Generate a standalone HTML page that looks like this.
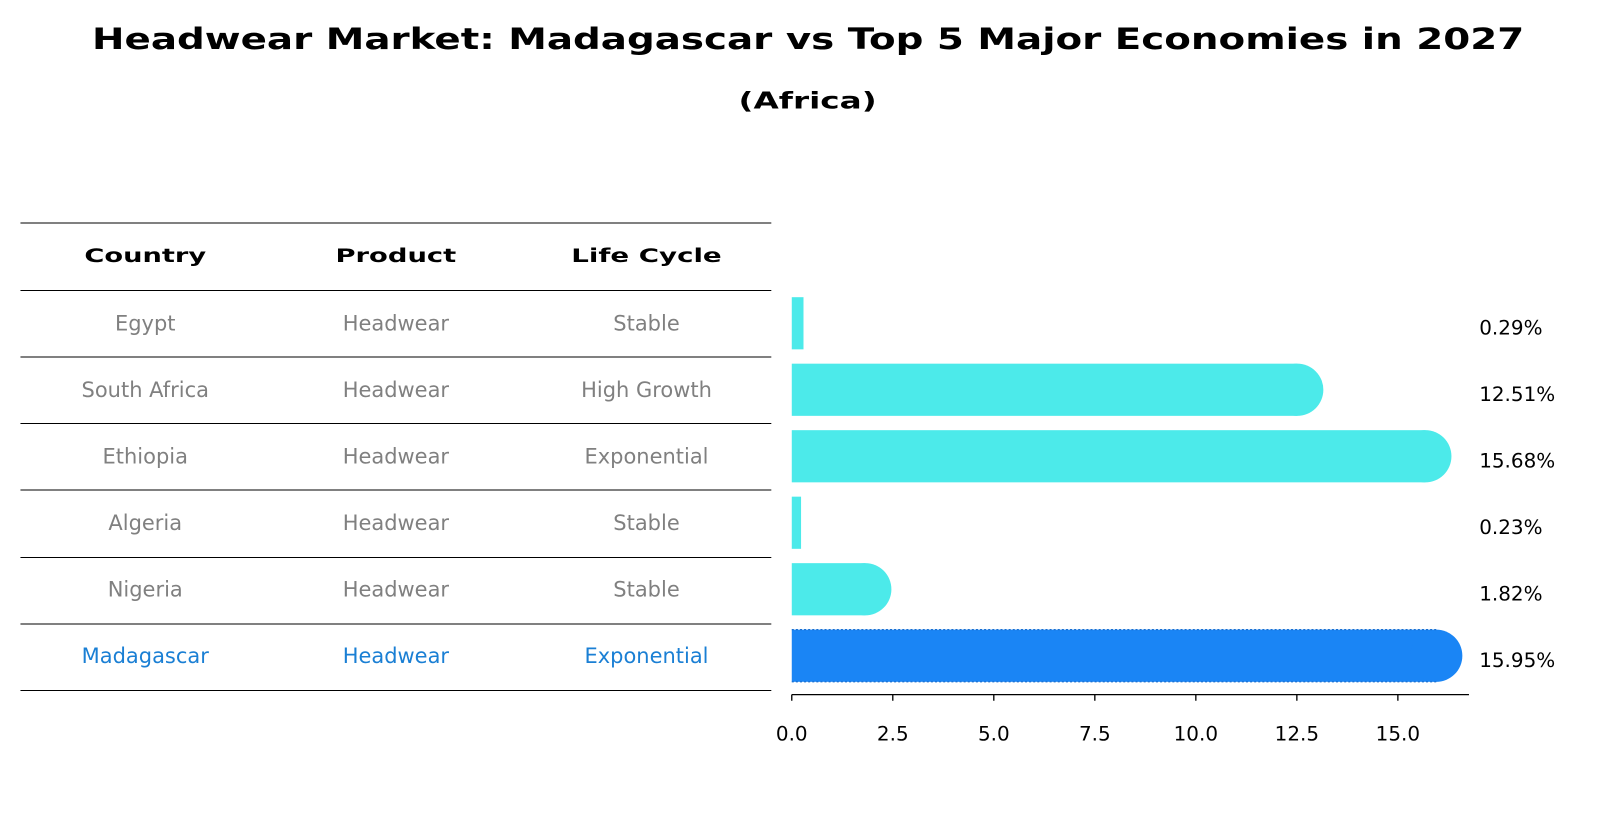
<!DOCTYPE html>
<html><head><meta charset="utf-8"><style>
body{margin:0;background:#fff;}
svg text{font-family:"DejaVu Sans","Liberation Sans",sans-serif;}
</style></head><body>
<svg width="1604" height="823" viewBox="0 0 1568 804.5" xmlns="http://www.w3.org/2000/svg" id="chart">
<text x="90" y="48" font-size="29" font-weight="bold" textLength="1400" lengthAdjust="spacingAndGlyphs">Headwear Market: Madagascar vs Top 5 Major Economies in 2027</text>
<text x="722" y="106" font-size="23" font-weight="bold" textLength="135" lengthAdjust="spacingAndGlyphs">(Africa)</text>
<g id="table"></g>
<g id="bars"></g>
<g id="axis"></g>
</svg>
<script>
const countries=["Egypt","South Africa","Ethiopia","Algeria","Nigeria","Madagascar"];
const products=["Headwear","Headwear","Headwear","Headwear","Headwear","Headwear"];
const lifecycles=["Stable","High Growth","Exponential","Stable","Stable","Exponential"];
const values=[0.29,12.51,15.68,0.23,1.82,15.95];
const tickValues=[0,2.5,5,7.5,10,12.5,15];
const tickLabels=["0.0","2.5","5.0","7.5","10.0","12.5","15.0"];
const NS="http://www.w3.org/2000/svg";
const x0=774, pxPerUnit=39.5;
const xs=v=>x0+v*pxPerUnit;
const rowY=i=>316+i*65;
function mk(tag,attrs,parent,txt){const e=document.createElementNS(NS,tag);for(const k in attrs)e.setAttribute(k,attrs[k]);if(txt!==undefined)e.textContent=txt;parent.appendChild(e);return e;}
const table=document.getElementById('table');
[218,284,349,414,479,545,610,675].forEach(y=>{
  const l=mk('line',{x1:20,x2:754,y1:y,y2:y,stroke:'#000','stroke-width':1},table);
  
  
});
const colX=[142,387,632];
const headW=[119,118,147];
["Country","Product","Life Cycle"].forEach((h,j)=>{
  const t=mk('text',{x:colX[j]-headW[j]/2,y:256,'font-size':18,'font-weight':'bold',textLength:headW[j],lengthAdjust:'spacingAndGlyphs'},table,h);
  
  
});
countries.forEach((c,i)=>{
  const col=c==="Madagascar"?"#1a7fd4":"#808080";
  [c,products[i],lifecycles[i]].forEach((v,j)=>{
    const t=mk('text',{x:colX[j],y:rowY(i)+7,'text-anchor':'middle','font-size':20.5,fill:col},table,v);
    
    
  });
});
const bars=document.getElementById('bars');
const bh=51;
values.forEach((v,i)=>{
  const hi=countries[i]==="Madagascar";
  const col=hi?"#1a85f5":"#4ceaea";
  const g=mk('g',{},bars);
  
  
  const yc=rowY(i);
  mk('rect',{x:x0,y:yc-bh/2,width:xs(v)-x0,height:bh,fill:col},g);
  if(v>1){mk('circle',{cx:xs(v),cy:yc,r:bh/2,fill:col},g);}
  if(hi){
    mk('line',{x1:x0,x2:xs(v),y1:yc-bh/2,y2:yc-bh/2,stroke:'#1a6fd0','stroke-width':1.2,'stroke-dasharray':'2 2'},g);
    mk('line',{x1:x0,x2:xs(v),y1:yc+bh/2,y2:yc+bh/2,stroke:'#1a6fd0','stroke-width':1.2,'stroke-dasharray':'2 2'},g);
  }
  const t=mk('text',{x:1446,y:yc+11,'font-size':19.5,fill:'#000'},bars,v.toFixed(2)+'%');
  
  
});
const axis=document.getElementById('axis');
mk('line',{x1:x0,x2:1436,y1:679,y2:679,stroke:'#000','stroke-width':1.3},axis);
tickValues.forEach((v,i)=>{
  mk('line',{x1:xs(v),x2:xs(v),y1:679,y2:685,stroke:'#000','stroke-width':1.3},axis);
  const t=mk('text',{x:xs(v),y:724,'text-anchor':'middle','font-size':19.5},axis,tickLabels[i]);
  
  
});
</script>
</body></html>
